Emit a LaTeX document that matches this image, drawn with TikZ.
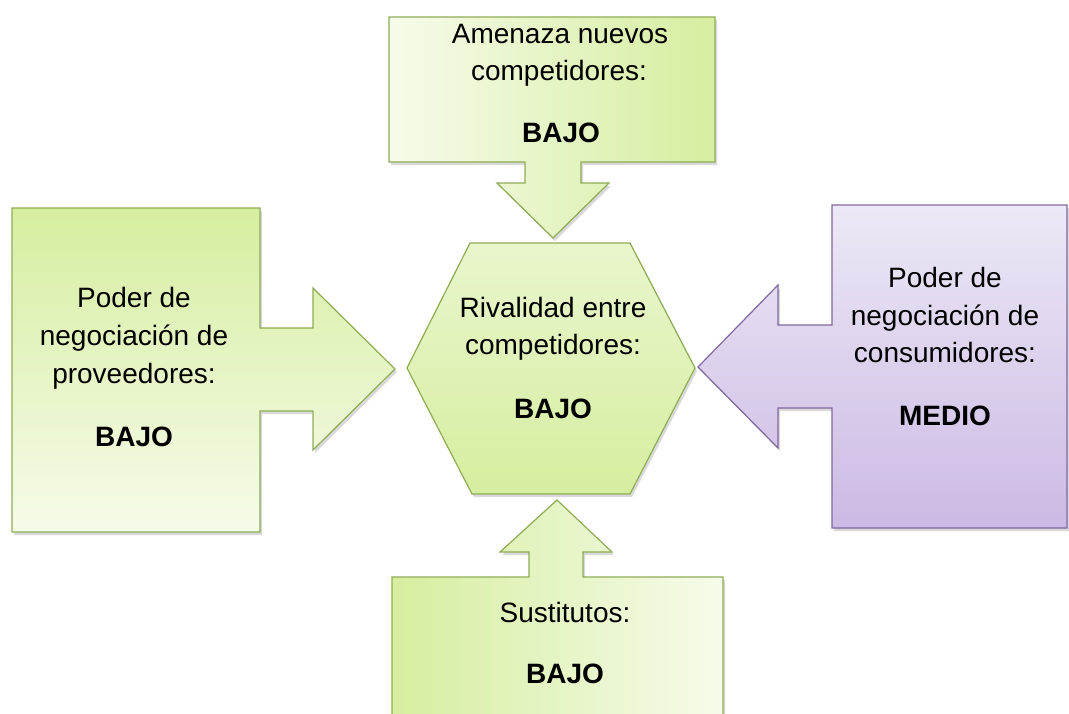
\documentclass[tikz,border=0pt]{standalone}
\usepackage{fontspec}
\setmainfont{Liberation Sans}
\usetikzlibrary{shadows}
\definecolor{gdark}{RGB}{141,172,84}
\definecolor{gsat}{RGB}{214,238,160}
\definecolor{glight}{RGB}{246,251,234}
\definecolor{pdark}{RGB}{128,104,160}
\definecolor{psat}{RGB}{203,186,228}
\definecolor{plight}{RGB}{237,232,246}
\tikzset{
  gshape/.style={draw=gdark, line width=1.2pt, line join=miter,
    drop shadow={shadow xshift=2pt, shadow yshift=-3pt, opacity=0.25, fill=black!60}},
  pshape/.style={draw=pdark, line width=1.2pt, line join=miter,
    drop shadow={shadow xshift=2pt, shadow yshift=-3pt, opacity=0.25, fill=black!60}},
  ln/.style={anchor=base, inner sep=0pt, font=\fontsize{28}{34}\selectfont},
  lb/.style={ln, font=\fontsize{28}{34}\selectfont\bfseries},
}
\begin{document}
\begin{tikzpicture}[x=1pt,y=-1pt]
\useasboundingbox (0,0) rectangle (1069,713);
\clip (0,0) rectangle (1069,713);

% top callout
\path[gshape, left color=glight, right color=gsat]
  (389,17) -- (715,17) -- (715,162) -- (581,162) -- (581,183) -- (609,183)
  -- (553,238) -- (497,183) -- (525,183) -- (525,162) -- (389,162) -- cycle;
% left callout
\path[gshape, top color=gsat, bottom color=glight]
  (12,208) -- (260,208) -- (260,328) -- (313,328) -- (313,288) -- (395,369)
  -- (313,450) -- (313,411) -- (260,411) -- (260,532) -- (12,532) -- cycle;
% right callout
\path[pshape, top color=plight, bottom color=psat]
  (832,205) -- (1067,205) -- (1067,528) -- (832,528) -- (832,408) -- (778,408)
  -- (778,448) -- (698,367) -- (778,285) -- (778,325) -- (832,325) -- cycle;
% bottom callout
\path[gshape, left color=gsat, right color=glight]
  (392,577) -- (529,577) -- (529,552) -- (500,552) -- (557,500) -- (612,552)
  -- (583,552) -- (583,577) -- (723,577) -- (723,725) -- (392,725) -- cycle;
% hexagon
\path[gshape, top color=glight!60!gsat, bottom color=gsat]
  (470,243) -- (630,243) -- (695,368) -- (630,494) -- (472,494) -- (407,368) -- cycle;

% texts
\node[ln] (t1) at (560,43) {Amenaza nuevos};
\node[ln] (t2) at (559,80) {competidores:};
\node[lb] (t3) at (561,142) {BAJO};

\node[ln] (l1) at (134,307) {Poder de};
\node[ln] (l2) at (134,345) {negociación de};
\node[ln] (l3) at (134,383) {proveedores:};
\node[lb] (l4) at (134,446) {BAJO};

\node[ln] (c1) at (553,317) {Rivalidad entre};
\node[ln] (c2) at (553,354) {competidores:};
\node[lb] (c3) at (553,418) {BAJO};

\node[ln] (r1) at (945,287) {Poder de};
\node[ln] (r2) at (945,325) {negociación de};
\node[ln] (r3) at (945,362) {consumidores:};
\node[lb] (r4) at (945,425) {MEDIO};

\node[ln] (b1) at (565,622) {Sustitutos:};
\node[lb] (b2) at (565,683) {BAJO};
\end{tikzpicture}
\end{document}
